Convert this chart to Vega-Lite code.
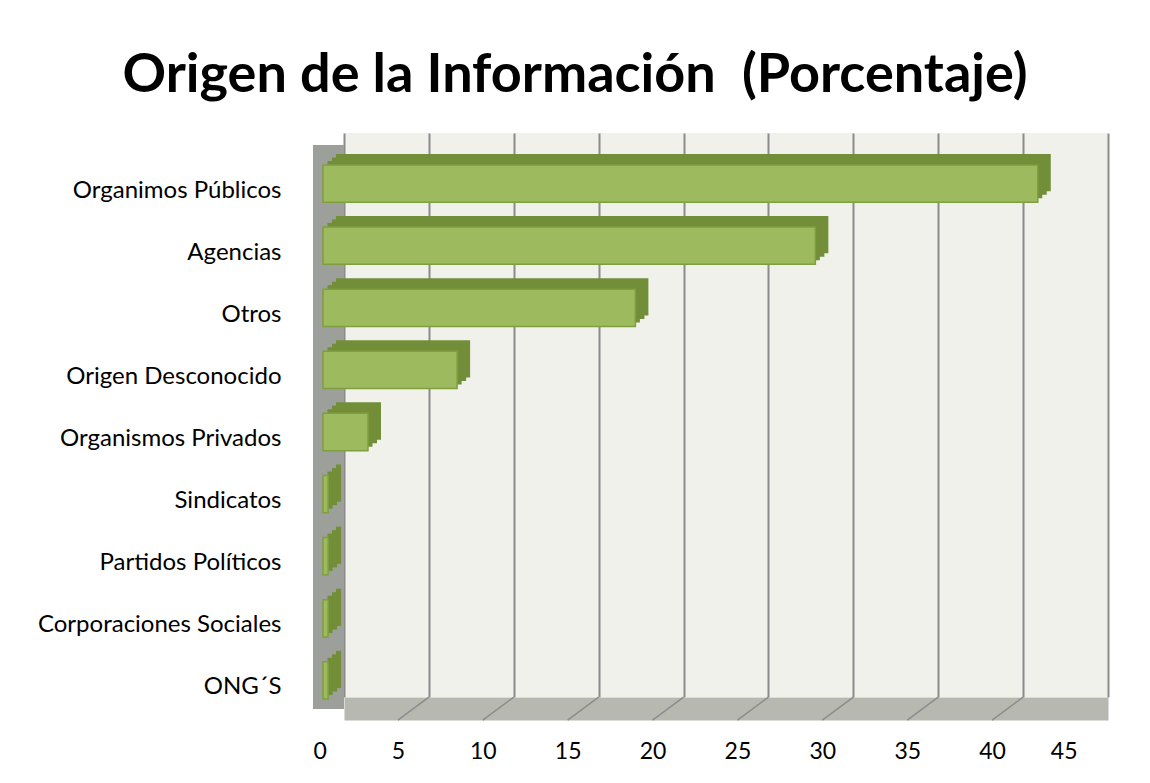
{
  "$schema": "https://vega.github.io/schema/vega-lite/v6.json",
  "width": 764,
  "height": 564,
  "autosize": {"type": "none"},
  "padding": {"left": 344, "top": 133, "right": 42, "bottom": 86},
  "background": "white",
  "title": {
    "text": "Origen de la Información \u00a0(Porcentaje)",
    "font": "Lato",
    "fontSize": 54,
    "fontWeight": "bold",
    "color": "#000000",
    "anchor": "middle",
    "frame": "group",
    "dx": -151,
    "offset": 26
  },
  "datasets": {
    "ticks": [{"t": 5}, {"t": 10}, {"t": 15}, {"t": 20}, {"t": 25}, {"t": 30}, {"t": 35}, {"t": 40}]
  },
  "data": {
    "values": [
      {"origen": "Organimos Públicos", "pct": 42.1},
      {"origen": "Agencias", "pct": 29.0},
      {"origen": "Otros", "pct": 18.4},
      {"origen": "Origen Desconocido", "pct": 7.9},
      {"origen": "Organismos Privados", "pct": 2.65},
      {"origen": "Sindicatos", "pct": 0.3},
      {"origen": "Partidos Políticos", "pct": 0.3},
      {"origen": "Corporaciones Sociales", "pct": 0.3},
      {"origen": "ONG´S", "pct": 0.3}
    ]
  },
  "config": {
    "view": {"fill": "#eff1ea", "stroke": null},
    "axis": {"labelFont": "Lato", "labelFontSize": 24, "labelColor": "#000000", "title": null, "labelLimit": 400}
  },
  "layer": [
    {
      "data": {"values": [{}]},
      "mark": {"type": "rule", "color": "#9d9f9a", "strokeWidth": 31, "xOffset": -15.5, "yOffset": -3, "y2Offset": 27},
      "encoding": {
        "x": {"datum": 0, "type": "quantitative", "scale": {"domain": [0, 45], "nice": false}},
        "y": {"datum": "Organimos Públicos", "type": "nominal", "bandPosition": 0},
        "y2": {"datum": "ONG´S", "bandPosition": 1}
      }
    },
    {
      "data": {"name": "ticks"},
      "mark": {"type": "rule", "color": "#8c8c8c", "strokeWidth": 1.5, "xOffset": 0, "x2Offset": -31, "yOffset": 15, "y2Offset": 38},
      "encoding": {
        "x": {"field": "t", "type": "quantitative"},
        "x2": {"field": "t"},
        "y": {"datum": "ONG´S", "type": "nominal", "bandPosition": 1},
        "y2": {"datum": "ONG´S", "bandPosition": 1}
      }
    },
    {
      "mark": {"type": "bar", "color": "#728e38", "xOffset": -8, "x2Offset": -8, "yOffset": 6, "y2Offset": 6},
      "encoding": {
        "x": {"field": "pct", "type": "quantitative", "scale": {"domain": [0, 45], "nice": false},
          "axis": {"values": [0,5,10,15,20,25,30,35,40,45], "grid": true, "gridColor": "#8c8c8c", "gridWidth": 2, "ticks": false,
            "domain": true, "domainColor": "#b7b9b1", "domainWidth": 23, "offset": 11.5, "labelPadding": 32, "labelOffset": -31, "labelFontSize": 23}},
        "y": {"field": "origen", "type": "nominal", "sort": null,
          "scale": {"domain": ["Organimos Públicos", "Agencias", "Otros", "Origen Desconocido", "Organismos Privados", "Sindicatos", "Partidos Políticos", "Corporaciones Sociales", "ONG´S"], "paddingInner": 0.4, "paddingOuter": 0.24},
          "axis": {"domain": false, "ticks": false, "grid": false, "labelPadding": 63, "labelOffset": 24}}
      }
    },
    {
      "mark": {"type": "bar", "color": "#728e38", "xOffset": -12, "x2Offset": -12, "yOffset": 9.5, "y2Offset": 9.5},
      "encoding": {
        "x": {"field": "pct", "type": "quantitative"},
        "y": {"field": "origen", "type": "nominal", "sort": null}
      }
    },
    {
      "mark": {"type": "bar", "color": "#728e38", "xOffset": -16.5, "x2Offset": -16.5, "yOffset": 13, "y2Offset": 13},
      "encoding": {
        "x": {"field": "pct", "type": "quantitative"},
        "y": {"field": "origen", "type": "nominal", "sort": null}
      }
    },
    {
      "mark": {"type": "bar", "color": "#9dbb5e", "stroke": "#7f9f3f", "strokeWidth": 1.5, "xOffset": -21, "x2Offset": -21, "yOffset": 17, "y2Offset": 17},
      "encoding": {
        "x": {"field": "pct", "type": "quantitative"},
        "y": {"field": "origen", "type": "nominal", "sort": null}
      }
    }
  ]
}
